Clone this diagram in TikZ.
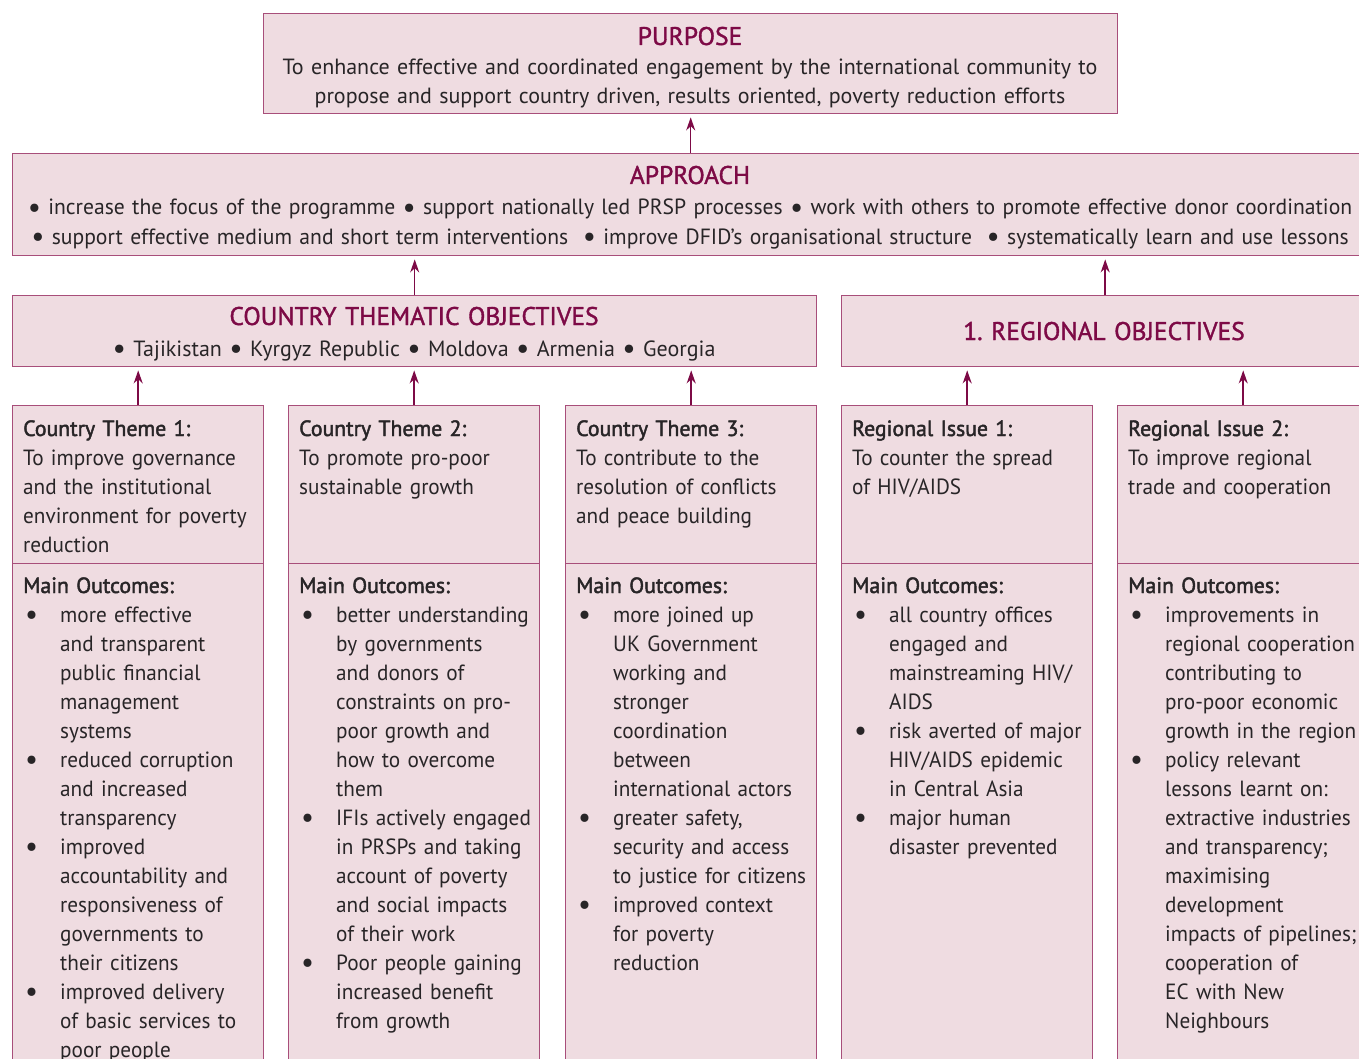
\documentclass[tikz,border=0pt]{standalone}
\usepackage{fontspec}
\setmainfont{PT Sans}
\newfontfamily\semibf[FakeBold=2]{PT Sans}
\newfontfamily\titlebf[FakeBold=1.4]{PT Sans}
\newfontfamily\widesf[FakeStretch=0.983]{PT Sans}
\newfontfamily\narrowsf[FakeStretch=0.965]{PT Sans}
\newfontfamily\narrowbf[FakeStretch=0.99, FakeBold=2]{PT Sans}
\usetikzlibrary{arrows.meta}
\usetikzlibrary{positioning}
\tikzset{panel/.style = {draw = mline, fill = mpink, line width = 1.4, inner sep = 0, anchor = north west}}
\tikzset{heading/.style = {anchor = base, inner sep = 0, text width = 800, align = center, text = mred, font = \titlebf\fontsize{25.5}{30}\selectfont}}
\tikzset{plain/.style = {anchor = base, inner sep = 0, align = center, text = mtext, font = \fontsize{22}{29}\selectfont}}
\tikzset{column/.style = {anchor = base west, inner sep = 0, text width = 250, align = left, text = mtext, font = \narrowsf\fontsize{22}{29}\selectfont}}
\tikzset{up/.style = {mred, line width = 1.5, -{Stealth[length = 13, width = 9]}, shorten > = 3}}
\definecolor{mred}{RGB}{125, 10, 70}
\definecolor{mline}{RGB}{168, 78, 122}
\definecolor{mpink}{RGB}{239, 220, 225}
\definecolor{mtext}{RGB}{40, 37, 39}
\newcommand{\bigdot}{\raisebox{-0.1em}{\scalebox{1.35}{\textbullet}}}
\newcommand{\pointmark}{\makebox[37pt][l]{\hspace{2pt}\bigdot}}
\newcommand{\pointgap}{\hspace*{37pt}}
\newcommand{\colhead}[1]{{\narrowbf #1}}
\frenchspacing

\begin{document}
\begin{tikzpicture}[x = 1pt, y = -1pt]
    \useasboundingbox (0, 0) rectangle (1359, 1059);
    \clip (0, 0) rectangle (1359, 1059);

    % boxes
    \node [panel, minimum width = 854, minimum height = 100] (purpose) at (263, 13) {};
    \node [panel, minimum width = 1356, minimum height = 102] (approach) at (12, 153) {};
    \node [panel, minimum width = 804, minimum height = 71] (thematic) at (12, 295) {};
    \node [panel, minimum width = 527, minimum height = 71] (regional) at (841, 295) {};
    \foreach \n/\x in {1/12, 2/288, 3/565, 4/841, 5/1117} {
      \node [panel, minimum width = 251, minimum height = 158] (top\n) at (\x, 405) {};
      \node [panel, minimum width = 251, minimum height = 520] (low\n) at (\x, 563) {};
    }

    % arrows
    \draw [up] (approach.north) -- (approach.north |- purpose.south);
    \draw [up] (thematic.north) -- (thematic.north |- approach.south);
    \draw [up] (regional.north) -- (regional.north |- approach.south);
    \foreach \n in {1, 2, 3} {
      \draw [up] (top\n.north) -- (top\n.north |- thematic.south);
    }
    \foreach \n in {4, 5} {
      \draw [up] (top\n.north) -- (top\n.north |- regional.south);
    }

    % headings
    \node [heading] (purposetitle) at (690, 45) {PURPOSE};
    \node [plain, text width = 840] (purposetext) at (690, 75) {To enhance effective and coordinated engagement by the international community to\\propose and support country driven, results oriented, poverty reduction efforts};
    \node [heading] (approachtitle) at (690, 184) {APPROACH};
    \node [plain, text width = 1350, font = \widesf\fontsize{22}{29}\selectfont] (approachtext) at (690, 215) {\bigdot{} increase the focus of the programme \bigdot{} support nationally led PRSP processes \bigdot{} work with others to promote effective donor coordination\\\bigdot{} support effective medium and short term interventions \ \bigdot{} improve DFID’s organisational structure \ \bigdot{} systematically learn and use lessons};
    \node [heading] (thematictitle) at (414, 325) {COUNTRY THEMATIC OBJECTIVES};
    \node [plain, text width = 790] (thematictext) at (414, 356) {\bigdot{} Tajikistan \bigdot{} Kyrgyz Republic \bigdot{} Moldova \bigdot{} Armenia \bigdot{} Georgia};
    \node [heading, text width = 520] (regionaltitle) at (1104, 340) {1. REGIONAL OBJECTIVES};

    % themes
    \node [column] (theme1) at (23, 436) {\colhead{Country Theme 1:}\\To improve governance\\and the institutional\\environment for poverty\\reduction};
    \node [column] (theme2) at (299, 436) {\colhead{Country Theme 2:}\\To promote pro-poor\\sustainable growth};
    \node [column] (theme3) at (576, 436) {\colhead{Country Theme 3:}\\To contribute to the\\resolution of conflicts\\and peace building};
    \node [column] (theme4) at (852, 436) {\colhead{Regional Issue 1:}\\To counter the spread\\of HIV/AIDS};
    \node [column] (theme5) at (1128, 436) {\colhead{Regional Issue 2:}\\To improve regional\\trade and cooperation};

    % outcomes
    \node [column] (outcome1) at (23, 593) {\colhead{Main Outcomes:}\\
      \pointmark more effective\\\pointgap and transparent\\\pointgap public financial\\\pointgap management\\\pointgap systems\\
      \pointmark reduced corruption\\\pointgap and increased\\\pointgap transparency\\
      \pointmark improved\\\pointgap accountability and\\\pointgap responsiveness of\\\pointgap governments to\\\pointgap their citizens\\
      \pointmark improved delivery\\\pointgap of basic services to\\\pointgap poor people};
    \node [column] (outcome2) at (299, 593) {\colhead{Main Outcomes:}\\
      \pointmark better understanding\\\pointgap by governments\\\pointgap and donors of\\\pointgap constraints on pro-\\\pointgap poor growth and\\\pointgap how to overcome\\\pointgap them\\
      \pointmark IFIs actively engaged\\\pointgap in PRSPs and taking\\\pointgap account of poverty\\\pointgap and social impacts\\\pointgap of their work\\
      \pointmark Poor people gaining\\\pointgap increased benefit\\\pointgap from growth};
    \node [column] (outcome3) at (576, 593) {\colhead{Main Outcomes:}\\
      \pointmark more joined up\\\pointgap UK Government\\\pointgap working and\\\pointgap stronger\\\pointgap coordination\\\pointgap between\\\pointgap international actors\\
      \pointmark greater safety,\\\pointgap security and access\\\pointgap to justice for citizens\\
      \pointmark improved context\\\pointgap for poverty\\\pointgap reduction};
    \node [column] (outcome4) at (852, 593) {\colhead{Main Outcomes:}\\
      \pointmark all country offices\\\pointgap engaged and\\\pointgap mainstreaming HIV/\\\pointgap AIDS\\
      \pointmark risk averted of major\\\pointgap HIV/AIDS epidemic\\\pointgap in Central Asia\\
      \pointmark major human\\\pointgap disaster prevented};
    \node [column] (outcome5) at (1128, 593) {\colhead{Main Outcomes:}\\
      \pointmark improvements in\\\pointgap regional cooperation\\\pointgap contributing to\\\pointgap pro-poor economic\\\pointgap growth in the region\\
      \pointmark policy relevant\\\pointgap lessons learnt on:\\\pointgap extractive industries\\\pointgap and transparency;\\\pointgap maximising\\\pointgap development\\\pointgap impacts of pipelines;\\\pointgap cooperation of\\\pointgap EC with New\\\pointgap Neighbours};
  \end{tikzpicture}
\end{document}
